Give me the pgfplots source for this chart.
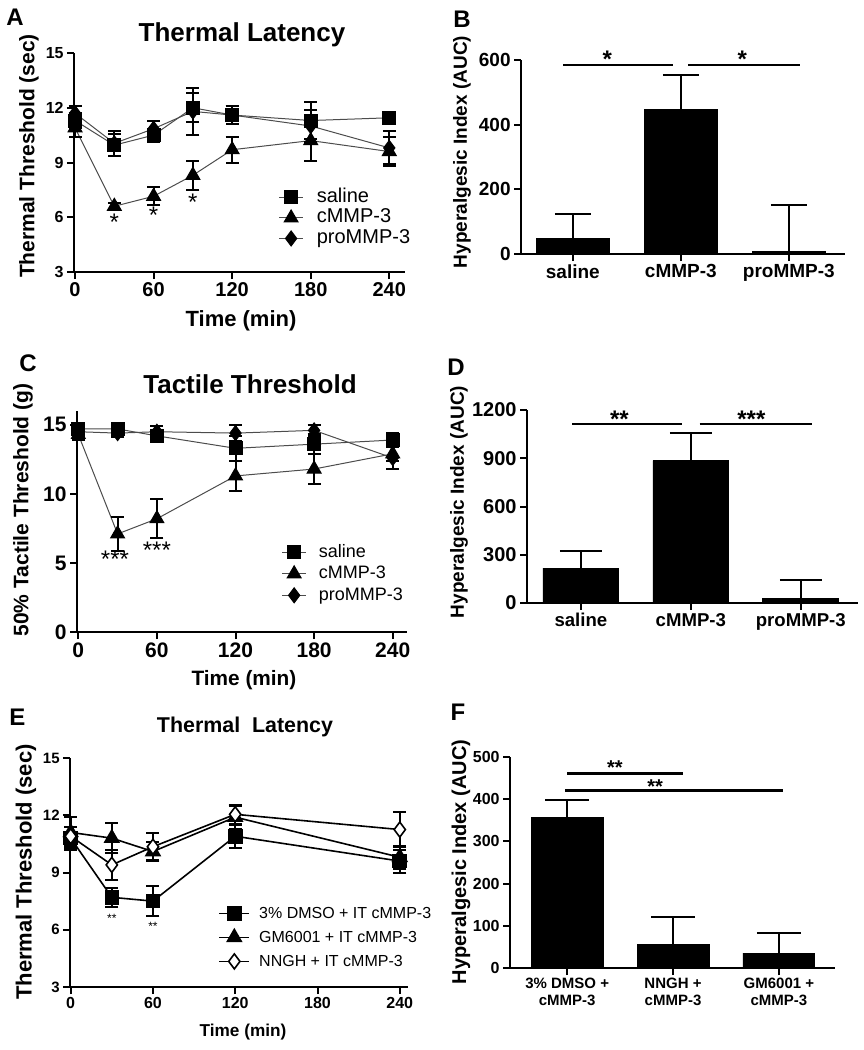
\documentclass[border=0pt]{standalone}
\usepackage{fontspec}
\setmainfont{Liberation Sans}
\usepackage{pgfplots}
\pgfplotsset{compat=1.18}
\newcommand{\fs}[2]{\fontsize{#1}{#2}\selectfont}
\pgfplotsset{
  prism/.style={
    scale only axis, clip=false,
    axis x line=bottom, axis y line=left,
    x axis line style={-}, y axis line style={-},
    axis line style={line width=1.1pt, black},
    xtick pos=left, ytick pos=left,
    tick align=outside,
    major tick length=3.5pt,
    every tick/.style={black, line width=1pt},
    /pgf/number format/assume math mode=true,
    /pgf/number format/1000 sep={},
    tick label style={font=\bfseries},
    xticklabel style={inner sep=1.5pt},
    yticklabel style={inner sep=1.5pt},
  },
  ser/.style={line width=0.5pt, mark options={solid, black, fill=black},
    /pgfplots/error bars/y dir=both, /pgfplots/error bars/y explicit,
    /pgfplots/error bars/error bar style={black, line width=1pt, solid},
    /pgfplots/error bars/error mark options={rotate=90, black, mark size=3.25pt, line width=1pt}},
  bars/.style={ybar, bar shift=0pt, fill=black, draw=black,
    /pgfplots/error bars/y dir=plus, /pgfplots/error bars/y explicit,
    /pgfplots/error bars/error bar style={black, line width=1pt},
    /pgfplots/error bars/error mark options={rotate=90, black, mark size=#1, line width=1pt}},
  leg/.style={legend image code/.code={\draw[mark repeat=2, mark phase=2, ##1] plot coordinates {(0cm,0cm) (#1/2,0cm) (#1,0cm)};}},
}
\begin{document}
\begin{tikzpicture}
\useasboundingbox (0,0) rectangle (431.5pt,-525pt);

% ---------------- Panel A ----------------
\begin{axis}[prism, at={(37pt,-136pt)}, anchor=south west, width=165.5pt, height=109.5pt,
  xmin=-0.8, xmax=252, ymin=3, ymax=15,
  xtick={0,60,120,180,240}, ytick={3,6,9,12,15},
  xticklabel style={font=\bfseries\fs{10}{12}}, yticklabel style={font=\bfseries\fs{8}{10}},
  leg=0.41cm,
  legend style={at={(0.618,0.389)}, anchor=north west, draw=none, fill=none, inner sep=0pt,
    font=\fs{10}{12}, nodes={inner sep=0pt, text height=7.5pt, text depth=2.75pt},
    /tikz/every odd column/.append style={column sep=6.75pt}},
  legend cell align=left]
\addplot[ser, color=gray!60!black, mark=square*, mark size=3.25pt] table[x=x,y=y,y error=e] {
x y e
0 11.3 0.4
30 9.95 0.6
60 10.5 0.35
90 12.0 0.8
120 11.6 0.5
180 11.3 1.0
240 11.45 0.2
};
\addlegendentry{saline}
\addplot[ser, color=gray!60!black, mark=triangle*, mark size=4pt] table[x=x,y=y,y error=e] {
x y e
0 10.9 0.5
30 6.6 0.2
60 7.15 0.5
90 8.3 0.8
120 9.7 0.7
180 10.2 1.1
240 9.6 0.8
};
\addlegendentry{cMMP-3}
\addplot[ser, color=gray!60!black, mark=diamond*, mark size=3.75pt] table[x=x,y=y,y error=e] {
x y e
0 11.7 0.4
30 10.05 0.7
60 10.85 0.4
90 11.8 1.3
120 11.6 0.5
180 11.0 0.9
240 9.8 0.9
};
\addlegendentry{proMMP-3}
\node[font=\fs{12}{12}] at (axis cs:30,5.74) {*};
\node[font=\fs{12}{12}] at (axis cs:60,6.1) {*};
\node[font=\fs{12}{12}] at (axis cs:90,6.8) {*};
\end{axis}

% ---------------- Panel B ----------------
\begin{axis}[prism, at={(260.5pt,-127pt)}, anchor=south west, width=162pt, height=97pt,
  xmin=-0.48, xmax=2.52, ymin=0, ymax=600,
  xtick={0,1,2}, xticklabels={saline,cMMP-3,proMMP-3}, ytick={0,200,400,600},
  xticklabel style={font=\bfseries\fs{9.5}{11}}, yticklabel style={font=\bfseries\fs{9.5}{11}}]
\addplot[bars=9pt, bar width=0.68] coordinates {(0,48) +- (0,77) (1,447) +- (0,108) (2,8) +- (0,144)};
\draw[line width=1.2pt] (axis cs:-0.09,584) -- (axis cs:0.93,584);
\draw[line width=1.2pt] (axis cs:1.07,584) -- (axis cs:2.1,584);
\node[font=\bfseries\fs{12}{12}] at (axis cs:0.32,602) {*};
\node[font=\bfseries\fs{12}{12}] at (axis cs:1.57,602) {*};
\end{axis}

% ---------------- Panel C ----------------
\begin{axis}[prism, at={(38.5pt,-316pt)}, anchor=south west, width=165pt, height=110.5pt,
  xmin=-1, xmax=250.9, ymin=0, ymax=16,
  xtick={0,60,120,180,240}, ytick={0,5,10,15},
  xticklabel style={font=\bfseries\fs{10.5}{12}}, yticklabel style={font=\bfseries\fs{10.5}{12}},
  leg=0.41cm,
  legend style={at={(0.62,0.411)}, anchor=north west, draw=none, fill=none, inner sep=0pt,
    font=\fs{9}{11}, nodes={inner sep=0pt, text height=7.8pt, text depth=2.95pt},
    /tikz/every odd column/.append style={column sep=6.25pt}},
  legend cell align=left]
\addplot[ser, color=gray!60!black, mark=square*, mark size=3.25pt] table[x=x,y=y,y error=e] {
x y e
0 14.7 0.3
30 14.7 0.3
60 14.2 0.4
120 13.3 0.9
180 13.6 0.7
240 13.9 0.5
};
\addlegendentry{saline}
\addplot[ser, color=gray!60!black, mark=triangle*, mark size=4pt] table[x=x,y=y,y error=e] {
x y e
0 14.3 0.4
30 7.1 1.2
60 8.2 1.4
120 11.3 1.1
180 11.8 1.1
240 12.9 0.5
};
\addlegendentry{cMMP-3}
\addplot[ser, color=gray!60!black, mark=diamond*, mark size=3.75pt] table[x=x,y=y,y error=e] {
x y e
0 14.5 0.3
30 14.4 0.3
60 14.5 0.4
120 14.4 0.6
180 14.6 0.4
240 12.6 0.8
};
\addlegendentry{proMMP-3}
\node[font=\fs{12}{12}] at (axis cs:28,5.3) {***};
\node[font=\fs{12}{12}] at (axis cs:60,5.9) {***};
\end{axis}

% ---------------- Panel D ----------------
\begin{axis}[prism, at={(263.5pt,-301.5pt)}, anchor=south west, width=165.5pt, height=96.5pt,
  xmin=-0.49, xmax=2.52, ymin=0, ymax=1200,
  xtick={0,1,2}, xticklabels={saline,cMMP-3,proMMP-3}, ytick={0,300,600,900,1200},
  xticklabel style={font=\bfseries\fs{9.3}{11}}, yticklabel style={font=\bfseries\fs{10}{12}}]
\addplot[bars=10.5pt, bar width=0.69] coordinates {(0,217) +- (0,104) (1,886) +- (0,169) (2,31) +- (0,114)};
\draw[line width=1.2pt] (axis cs:-0.08,1113) -- (axis cs:0.92,1113);
\draw[line width=1.2pt] (axis cs:1.08,1113) -- (axis cs:2.1,1113);
\node[font=\bfseries\fs{12}{12}] at (axis cs:0.35,1143) {**};
\node[font=\bfseries\fs{12}{12}] at (axis cs:1.55,1143) {***};
\end{axis}

% ---------------- Panel E ----------------
\begin{axis}[prism, at={(35pt,-493.5pt)}, anchor=south west, width=169pt, height=114.5pt,
  xmin=-0.5, xmax=246, ymin=3, ymax=15,
  xtick={0,60,120,180,240}, ytick={3,6,9,12,15},
  xticklabel style={font=\bfseries\fs{8}{10}}, yticklabel style={font=\bfseries\fs{7.5}{9}},
  leg=0.53cm,
  legend style={at={(0.438,0.3755)}, anchor=north west, draw=none, fill=none, inner sep=0pt,
    font=\fs{8}{10}, nodes={inner sep=0pt, text height=8.5pt, text depth=3.5pt},
    /tikz/every odd column/.append style={column sep=4.5pt}},
  legend cell align=left]
\addplot[ser, color=black, line width=0.8pt, mark=square*, mark size=3.25pt] table[x=x,y=y,y error=e] {
x y e
0 10.8 0.6
30 7.7 0.5
60 7.5 0.8
120 10.9 0.6
240 9.6 0.6
};
\addlegendentry{3\% DMSO + IT cMMP-3}
\addplot[ser, color=black, line width=0.8pt, mark=triangle*, mark size=4pt] table[x=x,y=y,y error=e] {
x y e
0 11.1 0.8
30 10.8 0.8
60 10.1 0.5
120 11.9 0.6
240 9.8 0.6
};
\addlegendentry{GM6001 + IT cMMP-3}
\addplot[ser, color=black, line width=0.8pt, mark=diamond*, mark size=3.75pt, mark options={solid, draw=black, fill=white}] table[x=x,y=y,y error=e] {
x y e
0 10.9 0.5
30 9.4 0.8
60 10.35 0.7
120 12.05 0.5
240 11.25 0.9
};
\addlegendentry{NNGH + IT cMMP-3}
\node[font=\fs{6}{6}] at (axis cs:30,6.6) {**};
\node[font=\fs{6}{6}] at (axis cs:60,6.18) {**};
\end{axis}

% ---------------- Panel F ----------------
\begin{axis}[prism, at={(255pt,-484pt)}, anchor=south west, width=162.5pt, height=105.5pt,
  xmin=-0.54, xmax=2.53, ymin=0, ymax=500,
  xtick={0,1,2}, xticklabels={{3\% DMSO +\\cMMP-3},{NNGH +\\cMMP-3},{GM6001 +\\cMMP-3}},
  ytick={0,100,200,300,400,500},
  xticklabel style={align=center, font=\bfseries\fs{7.5}{8.5}}, yticklabel style={font=\bfseries\fs{8}{10}}]
\addplot[bars=11pt, bar width=0.68] coordinates {(0,357) +- (0,41) (1,55) +- (0,65) (2,35) +- (0,48)};
\draw[line width=1.2pt] (axis cs:0,461) -- (axis cs:1.09,461);
\draw[line width=1.2pt] (axis cs:-0.02,421) -- (axis cs:2.04,421);
\node[font=\bfseries\fs{10}{10}] at (axis cs:0.45,474) {**};
\node[font=\bfseries\fs{10}{10}] at (axis cs:0.83,431) {**};
\end{axis}

% ---------------- titles, labels ----------------
\begin{scope}[x=0.5pt, y=-0.5pt]
\node[anchor=base, font=\bfseries\fs{13}{15}] at (242,41.7) {Thermal Latency};
\node[anchor=base, font=\bfseries\fs{13}{15}] at (250,393) {Tactile Threshold};
\node[anchor=base, font=\bfseries\fs{10.7}{12}] at (245,732) {Thermal\ \ Latency};
\node[anchor=base, font=\bfseries\fs{12}{14}] at (15,25) {A};
\node[anchor=base, font=\bfseries\fs{12}{14}] at (462,27) {B};
\node[anchor=base, font=\bfseries\fs{12}{14}] at (28,371) {C};
\node[anchor=base, font=\bfseries\fs{12}{14}] at (456,375) {D};
\node[anchor=base, font=\bfseries\fs{12}{14}] at (17.5,725) {E};
\node[anchor=base, font=\bfseries\fs{12}{14}] at (458,720) {F};
\node[rotate=90, font=\bfseries\fs{10.5}{13}] at (29,156) {Thermal Threshold (sec)};
\node[rotate=90, font=\bfseries\fs{9.5}{11}] at (462,152) {Hyperalgesic Index (AUC)};
\node[rotate=90, font=\bfseries\fs{10.5}{13}] at (23,510) {50\% Tactile Threshold (g)};
\node[rotate=90, font=\bfseries\fs{9.5}{11}] at (459,502) {Hyperalgesic Index (AUC)};
\node[rotate=90, font=\bfseries\fs{11}{13}] at (26,872) {Thermal Threshold (sec)};
\node[rotate=90, font=\bfseries\fs{10}{12}] at (461,862) {Hyperalgesic Index (AUC)};
\node[font=\bfseries\fs{11}{13}] at (241,321) {Time (min)};
\node[font=\bfseries\fs{10.4}{12}] at (244,680) {Time (min)};
\node[font=\bfseries\fs{8.6}{10}] at (243,1032) {Time (min)};
\end{scope}
\end{tikzpicture}
\end{document}
